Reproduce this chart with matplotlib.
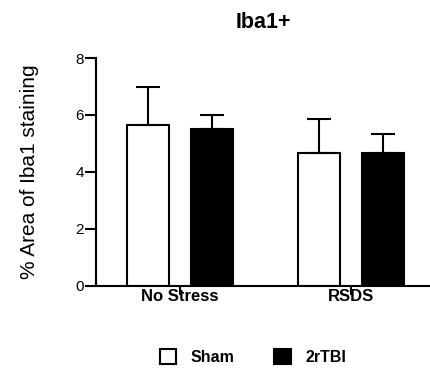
import matplotlib
matplotlib.use("Agg")
import matplotlib.pyplot as plt
from matplotlib.patches import Patch
import numpy as np

plt.rcParams['font.family'] = ['Liberation Sans', 'DejaVu Sans']

categories = ["No Stress", "RSDS"]
series_names = ["Sham", "2rTBI"]
sham_vals = [5.65, 4.65]
sham_err = [1.35, 1.21]
tbi_vals = [5.50, 4.65]
tbi_err = [0.50, 0.68]
yticks = [0, 2, 4, 6, 8]

fig = plt.figure(figsize=(4.3, 3.72), dpi=100)
ax = fig.add_axes([96/430, 1-285.7/372, 1-96/430, (285.7-58.1)/372])

x = np.arange(len(categories))
off = 0.187
w = 0.25
lw = 1.5
ekw = dict(elinewidth=lw, capthick=lw, capsize=8.3, ecolor='black')
ax.bar(x - off, sham_vals, w, color='white', edgecolor='black', linewidth=lw,
       yerr=[np.zeros(len(sham_err)), sham_err], error_kw=ekw, zorder=2)
ax.bar(x + off, tbi_vals, w, color='black', edgecolor='black', linewidth=lw,
       yerr=[np.zeros(len(tbi_err)), tbi_err], error_kw=ekw, zorder=2)

ax.set_xlim(-0.491, 1.462)
ax.set_ylim(0, 8)
ax.set_yticks(yticks)
ax.set_yticklabels([str(t) for t in yticks], fontsize=11)
ax.set_xticks(x)
ax.set_xticklabels(categories, fontsize=12, fontweight='bold')
for s in ['top', 'right']:
    ax.spines[s].set_visible(False)
for s in ['left', 'bottom']:
    ax.spines[s].set_linewidth(lw)
ax.tick_params(axis='y', length=7.6, width=lw, pad=1)
ax.tick_params(axis='x', length=6.5, width=lw, pad=-4)

ax.set_ylabel("% Area of Iba1 staining", fontsize=15, labelpad=26)
ax.set_title("Iba1+", fontsize=15.5, fontweight='bold', pad=21.5)

handles = [Patch(facecolor='white', edgecolor='black', linewidth=lw),
           Patch(facecolor='black', edgecolor='black', linewidth=lw)]
fig.legend(handles, series_names, loc='center', bbox_to_anchor=(253/430, 1-357/372),
           ncol=2, frameon=False, prop={'size': 11.5, 'weight': 'bold'},
           handlelength=1.05, handleheight=1.05, handletextpad=0.9, columnspacing=2.5)

fig.savefig("out.png", dpi=100)
